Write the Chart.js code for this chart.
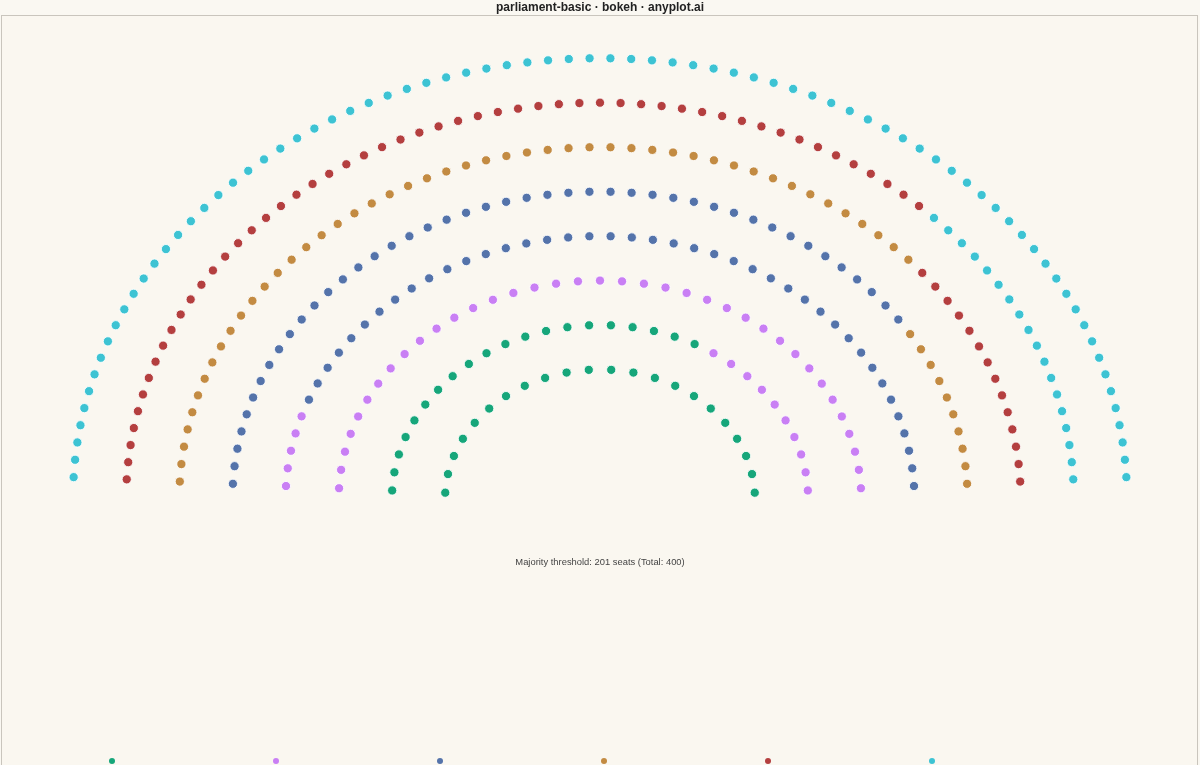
<!DOCTYPE html>
<html>
<head>
<meta charset="utf-8">
<title>parliament-basic</title>
<script src="https://cdn.jsdelivr.net/npm/chart.js@4.4.1/dist/chart.umd.min.js"></script>
<style>
  html, body { margin: 0; padding: 0; overflow: hidden; background: #FAF8F2; }
  #wrap { position: relative; width: 1200px; height: 900px; }
  #legend { position: absolute; top: 758px; left: 0; width: 1200px; }
  .item { position: absolute; font: 13px "Liberation Sans", Arial, sans-serif; color: #333; white-space: nowrap; }
  .dot { width: 6px; height: 6px; border-radius: 50%; margin-bottom: 8px; }
</style>
</head>
<body>
<div id="wrap">
  <canvas id="parliament" width="1200" height="900"></canvas>
  <div id="legend"></div>
</div>
<script>
// parties and their seats, in seating order (left to right, inner row first)
const parties = ['Green Alliance', 'Progressive Left', 'Social Democrats', 'Centre Union', 'Conservatives', 'Liberal Party']
const seats = [42, 52, 85, 58, 67, 96]
const colors = ['#16A67A', '#C97FF4', '#5473AA', '#C38B42', '#B43F3F', '#3DC3D3']
// how many seats sit on each row of the hemicycle, inner row first
const rowSeats = [22, 30, 37, 46, 54, 62, 71, 78]

const totalSeats = seats.reduce((a, b) => a + b, 0)
const majority = Math.floor(totalSeats / 2) + 1
const font = '"Liberation Sans", Arial, Helvetica, sans-serif'

// hemicycle layout
const innerR = 0.294
const outerR = 1.0
const gap = 0.05 // angle left empty at both ends of a row

function seatPositions() {
    const pts = []
    rowSeats.forEach((n, row) => {
        const r = innerR + (outerR - innerR) * row / (rowSeats.length - 1)
        for (let i = 0; i < n; i++) {
            const a = Math.PI - gap - i * (Math.PI - 2 * gap) / (n - 1)
            pts.push({ x: r * Math.cos(a), y: r * Math.sin(a) })
        }
    })
    return pts
}

const positions = seatPositions()
let start = 0
const datasets = parties.map((name, p) => {
    const data = positions.slice(start, start + seats[p])
    start += seats[p]
    return {
        label: name,
        data: data,
        backgroundColor: colors[p],
        borderColor: 'rgba(255,255,255,0.85)',
        borderWidth: 1,
        pointRadius: 4.6
    }
})

const framePlugin = {
    id: 'frame',
    beforeDraw(chart) {
        const ctx = chart.ctx
        const a = chart.chartArea
        ctx.save()
        ctx.fillStyle = '#FAF8F2'
        ctx.fillRect(0, 0, chart.width, chart.height)
        ctx.fillStyle = '#FAF7F0'
        ctx.fillRect(a.left, a.top, a.right - a.left, a.bottom - a.top)
        ctx.strokeStyle = '#C9C5BD'
        ctx.lineWidth = 1
        ctx.strokeRect(a.left + 0.5, a.top + 0.5, a.right - a.left - 2, a.bottom - a.top - 1)
        ctx.restore()
    }
}

const notePlugin = {
    id: 'note',
    afterDatasetsDraw(chart) {
        const ctx = chart.ctx
        const x = chart.scales.x.getPixelForValue(0)
        const y = chart.scales.y.getPixelForValue(-0.143)
        ctx.save()
        ctx.font = '9.4px ' + font
        ctx.fillStyle = '#444444'
        ctx.textAlign = 'center'
        ctx.textBaseline = 'middle'
        ctx.fillText('Majority threshold: ' + majority + ' seats (Total: ' + totalSeats + ')', x, y)
        ctx.restore()
    }
}

new Chart(document.getElementById('parliament'), {
    type: 'scatter',
    data: { datasets: datasets },
    options: {
        responsive: false,
        animation: false,
        events: [],
        layout: { autoPadding: false, padding: { left: 1, right: 1, top: 0, bottom: 0 } },
        scales: {
            x: { display: false, min: -1.1366, max: 1.1366 },
            y: { display: false, min: -0.909, max: 1.098 }
        },
        plugins: {
            legend: { display: false },
            tooltip: { enabled: false },
            title: {
                display: true,
                text: 'parliament-basic · bokeh · anyplot.ai',
                color: '#222222',
                font: { family: font, size: 12, weight: 'bold', lineHeight: 1.25 },
                padding: { top: 0, bottom: 0 }
            }
        }
    },
    plugins: [framePlugin, notePlugin]
})

// legend row along the bottom of the plot
const legend = document.getElementById('legend')
parties.forEach((name, p) => {
    const item = document.createElement('div')
    item.className = 'item'
    item.style.left = (109 + p * 164) + 'px'
    item.innerHTML = '<div class="dot" style="background:' + colors[p] + '"></div>' + name + ' (' + seats[p] + ')'
    legend.appendChild(item)
})
</script>
</body>
</html>
